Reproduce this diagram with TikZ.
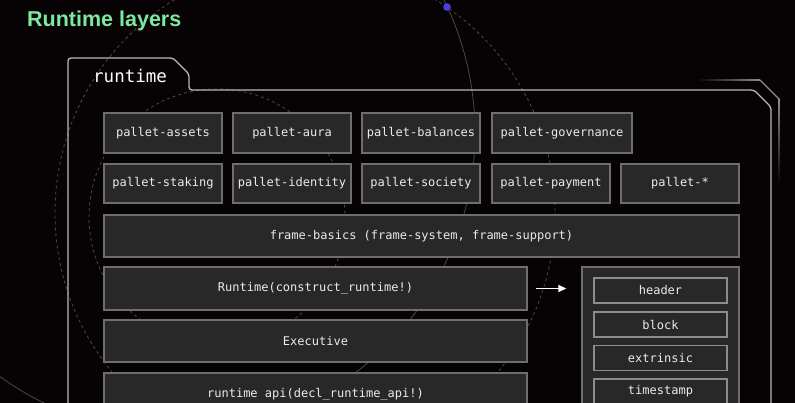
\documentclass[tikz,border=0pt]{standalone}
\usepackage{fontspec}
\setmonofont{DejaVu Sans Mono}
\newfontfamily\titlefont{Liberation Sans}
\usetikzlibrary{arrows.meta}

\definecolor{bgcol}{RGB}{7,3,4}
\definecolor{boxfill}{RGB}{40,40,40}
\definecolor{boxline}{RGB}{110,110,110}
\definecolor{cellline}{RGB}{140,140,140}
\definecolor{frameline}{RGB}{185,185,185}
\definecolor{arcline}{RGB}{72,72,72}
\definecolor{titlegreen}{RGB}{125,232,160}
\definecolor{dotblue}{RGB}{74,64,224}

\begin{document}
\begin{tikzpicture}[x=1pt,y=-1pt,
    layer/.style={draw=boxline,line width=1.3pt,fill=boxfill,text=white!92!black,inner sep=0pt,font=\ttfamily\fontsize{12}{14}\selectfont},
    pallet/.style={layer,minimum width=118pt,minimum height=40pt},
    cell/.style={layer,draw=cellline,line width=1.1pt,minimum width=133pt,minimum height=25pt}]
    \useasboundingbox (0,0) rectangle (795,403);
    \clip (0,0) rectangle (795,403);
    \fill[bgcol] (0,0) rectangle (795,403);

    % background arcs
    \draw[arcline,line width=0.8pt,dash pattern=on 3pt off 3pt] (305,213) circle[radius=250];
    \draw[arcline,line width=0.8pt,dash pattern=on 3pt off 3pt] (217,217) circle[radius=128];
    \draw[arcline,line width=0.8pt] (175,133) circle[radius=300];
    \fill[dotblue] (447,7) circle[radius=3.8];

    \node (t1) at (27,27) [anchor=base west,inner sep=0pt,text=titlegreen,font=\titlefont\bfseries\fontsize{21.5}{24}\selectfont] {Runtime layers};

    % runtime frame
    \draw[frameline,line width=1.3pt,rounded corners=3pt] (68,410) -- (68,58) -- (173,58) -- (189,74) -- (189,90) -- (754,90) -- (771,107) -- (771,410);
    \shade[left color=bgcol,right color=frameline!75!black] (697,79.4) rectangle (760,80.6);
    \draw[frameline!75!black,line width=1.2pt] (760,80) -- (779,99);
    \shade[top color=frameline!75!black,bottom color=bgcol] (778.4,99) rectangle (779.6,185);
    \node (r1) at (93,83) [anchor=base west,inner sep=0pt,text=white,font=\ttfamily\fontsize{17.5}{20}\selectfont] {runtime};

    \node (b1) at (163,133) [pallet] {pallet-assets};
    \node (b2) at (292,133) [pallet] {pallet-aura};
    \node (b3) at (421,133) [pallet] {pallet-balances};
    \node (b4) at (562,133) [pallet,minimum width=140pt] {pallet-governance};

    \node (b5) at (163,183.5) [pallet,minimum height=39pt] {pallet-staking};
    \node (b6) at (292,183.5) [pallet,minimum height=39pt] {pallet-identity};
    \node (b7) at (421,183.5) [pallet,minimum height=39pt] {pallet-society};
    \node (b8) at (551,183.5) [pallet,minimum height=39pt] {pallet-payment};
    \node (b9) at (680,183.5) [pallet,minimum height=39pt] {pallet-*};

    \node (b10) at (421.5,236) [layer,minimum width=635pt,minimum height=42pt] {frame-basics (frame-system, frame-support)};
    \node (b11) at (315.5,288.5) [layer,minimum width=423pt,minimum height=43pt] {Runtime(construct\_runtime!)};
    \node (b12) at (315.5,341) [layer,minimum width=423pt,minimum height=42pt] {Executive};
    \node (b13) at (315.5,394.5) [layer,minimum width=423pt,minimum height=43pt] {runtime api(decl\_runtime\_api!)};

    \node (b14) at (660.5,347) [layer,minimum width=157pt,minimum height=160pt] {};
    \node (h1) at (660.5,290.5) [cell] {header};
    \node (h2) at (660.5,324.5) [cell] {block};
    \node (h3) at (660.5,358) [cell] {extrinsic};
    \node (h4) at (660.5,391.5) [cell] {timestamp};

    \draw [white,line width=1.3pt,-{Triangle[length=8pt,width=7pt]},shorten <=8pt,shorten >=15pt] (b11.east) -- (b11.east -| b14.west);
\end{tikzpicture}
\end{document}
